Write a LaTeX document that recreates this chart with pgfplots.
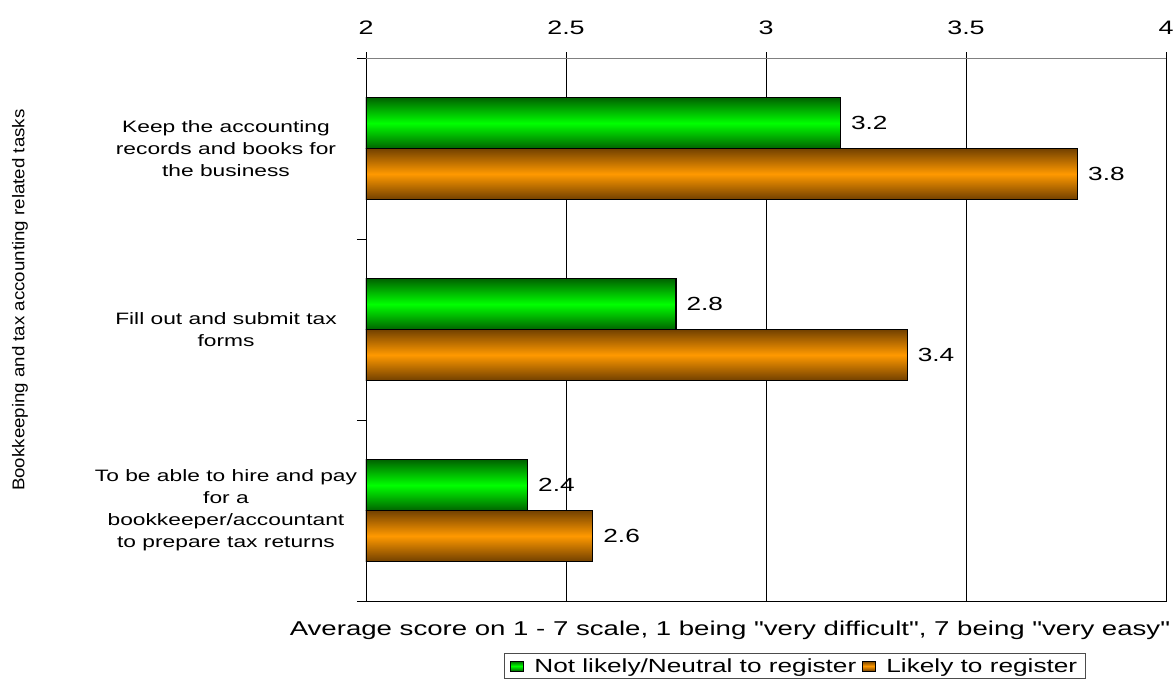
\documentclass[border=0pt]{standalone}
\usepackage{pgfplots}
\pgfplotsset{compat=1.18}
\usepackage{fontspec}
\setmainfont{Liberation Sans}[FakeStretch=1.38, Ligatures=TeXOff]
\newfontfamily\ylabfont{Liberation Sans}[FakeStretch=1.1]

\definecolor{grnmid}{RGB}{0,255,0}
\definecolor{grndark}{RGB}{0,100,0}
\definecolor{ornmid}{RGB}{255,153,0}
\definecolor{orndark}{RGB}{115,65,0}

\pgfplotsset{
  sqlegend/.style={legend image code/.code={\draw[##1, line width=1pt] (0pt,-5pt) rectangle (13pt,5pt);}},
  grnbar/.style={draw=black, line width=1.2pt, top color=grndark, bottom color=grndark, middle color=grnmid, bar shift=-0.14, sqlegend},
  ornbar/.style={draw=black, line width=1.2pt, top color=orndark, bottom color=orndark, middle color=ornmid, bar shift=0.14, sqlegend},
}

\begin{document}
\begin{tikzpicture}
\begin{axis}[
    scale only axis,
    width=800pt, height=543pt,
    xbar,
    xmin=2, xmax=4,
    ymin=-0.5, ymax=2.5,
    y dir=reverse,
    bar width=0.28,
    /pgf/number format/assume math mode=true,
    xtick={2,2.5,3,3.5,4},
    xtick pos=right, xticklabel pos=right,
    ytick pos=left,
    tick align=outside,
    major tick length=6pt,
    minor tick length=9pt,
    ytick={0,1,2},
    minor ytick={-0.5,0.5,1.5,2.5},
    major y tick style={draw=none},
    yticklabels={{Keep the accounting\\records and books for\\the business},
                 {Fill out and submit tax\\forms},
                 {To be able to hire and pay\\for a\\bookkeeper/accountant\\to prepare tax returns}},
    yticklabel style={font=\fontsize{16.5}{22}\selectfont, align=center, anchor=center, xshift=-134pt},
    xticklabel style={font=\fontsize{19.5}{22}\selectfont, yshift=14pt},
    xmajorgrids,
    major x grid style={black, line width=0.8pt},
    axis line style={black, line width=0.8pt},
    tick style={black, line width=0.8pt},
    xlabel={Average score on 1 - 7 scale, 1 being "very difficult", 7 being "very easy"},
    xlabel style={font=\fontsize{20}{22}\selectfont, at={(axis description cs:0.455,0)}, anchor=center, yshift=-29pt},
    ylabel={\ylabfont Bookkeeping and tax accounting related tasks},
    ylabel style={font=\fontsize{17}{20}\selectfont, at={(axis description cs:-0.4325,0.554)}, anchor=center},
    point meta=x,
    nodes near coords={\pgfmathprintnumber[fixed,precision=1]{\pgfplotspointmeta}},
    nodes near coords align=horizontal,
    every node near coord/.append style={font=\fontsize{19}{22}\selectfont, black, anchor=west, inner sep=0pt, xshift=10pt},
    legend columns=2,
    legend style={at={(axis description cs:0.536,-0.0958)}, anchor=north, draw=black!70, line width=0.8pt,
        font=\fontsize{19}{22}\selectfont, inner xsep=6pt, inner ysep=3pt,
        /tikz/every odd column/.append style={column sep=8pt},
        /tikz/every even column/.append style={column sep=4pt}},
]
\addplot[grnbar] coordinates {(3.186,0)};
\addplot[ornbar] coordinates {(3.779,0)};
\addplot[grnbar, forget plot] coordinates {(2.775,1)};
\addplot[ornbar, forget plot] coordinates {(3.353,1)};
\addplot[grnbar, forget plot] coordinates {(2.404,2)};
\addplot[ornbar, forget plot] coordinates {(2.567,2)};
\legend{Not likely/Neutral to register, Likely to register}
\draw[black!50, line width=0.8pt] ([xshift=-9pt]rel axis cs:0,1) -- (rel axis cs:1,1);
\end{axis}
\pgfresetboundingbox
\useasboundingbox (-366pt,-84pt) rectangle (809pt,601pt);
\end{tikzpicture}
\end{document}
